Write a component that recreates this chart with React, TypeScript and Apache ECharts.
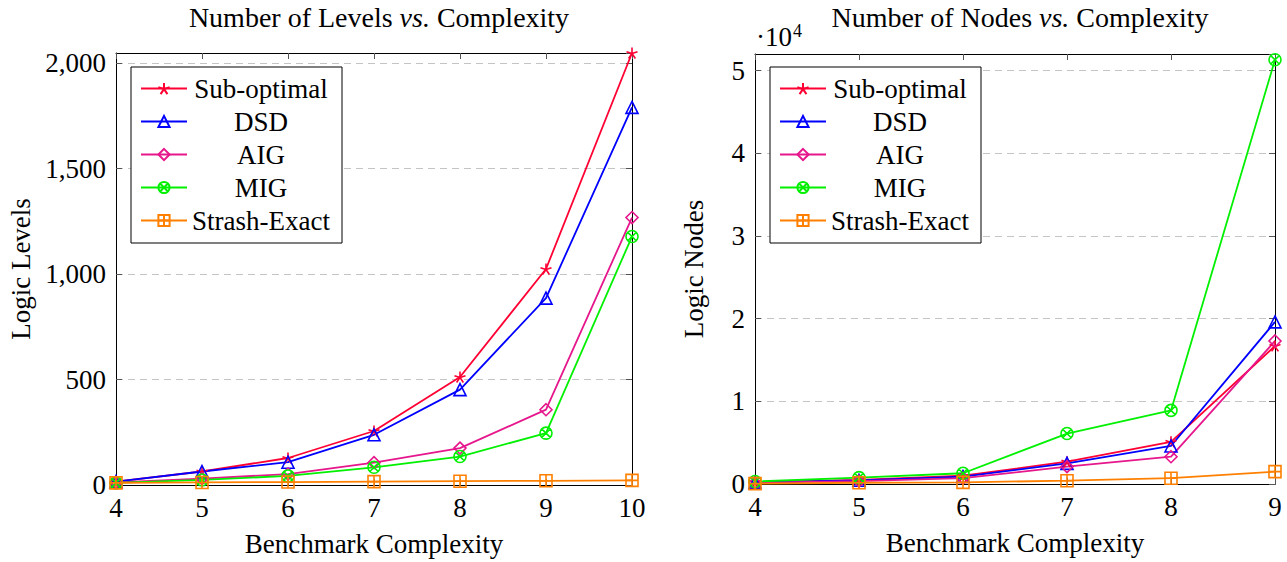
import React, { useEffect, useRef } from 'react';
import * as echarts from 'echarts';

// ---------- data ----------
const seriesNames = ['Sub-optimal', 'DSD', 'AIG', 'MIG', 'Strash-Exact'];

const levelComplexity = [4, 5, 6, 7, 8, 9, 10];
const levelsSubOptimal = [16, 64, 128, 256, 512, 1024, 2048];
const levelsDSD = [16, 64, 108, 238, 452, 886, 1790];
const levelsAIG = [12, 30, 52, 106, 175, 357, 1268];
const levelsMIG = [10, 24, 43, 84, 135, 246, 1178];
const levelsStrash = [10, 12, 14, 16, 18, 20, 22];

const nodeComplexity = [4, 5, 6, 7, 8, 9];
const nodesSubOptimal = [200, 500, 1000, 2700, 5100, 16700];
const nodesDSD = [200, 450, 900, 2500, 4600, 19600];
const nodesAIG = [150, 350, 700, 2100, 3300, 17300];
const nodesMIG = [300, 770, 1300, 6100, 8900, 51300];
const nodesStrash = [50, 150, 200, 400, 700, 1500];

const levelTicks = { min: 0, max: 2048, interval: 500 };
const nodeTicks = { min: 0, max: 52000, interval: 10000 };

// ---------- styles ----------
const FONT = '"Liberation Serif", "Times New Roman", serif';
const FS = 27;
const TFS = 28;

const STAR =
  'path://M0,0L0,-5M0,0L-4.76,-1.55M0,0L-2.94,4.05M0,0L2.94,4.05M0,0L4.76,-1.55';
const TRI = 'path://M0,-5L5.2,4L-5.2,4Z';
const DIAM = 'path://M0,-6L3.8,0L0,6L-3.8,0Z';
const OTIMES =
  'path://M5,0A5,5,0,1,1,-5,0A5,5,0,1,1,5,0ZM-3.5,-3.5L3.5,3.5M-3.5,3.5L3.5,-3.5';
const BOXPLUS = 'path://M-5,-5L5,-5L5,5L-5,5ZM0,-5L0,5M-5,0L5,0';

const styles: Record<string, { color: string; symbol: string; size: number }> = {
  'Sub-optimal': { color: '#ff0033', symbol: STAR, size: 11 },
  DSD: { color: '#0000ff', symbol: TRI, size: 12 },
  AIG: { color: '#e6168c', symbol: DIAM, size: 12 },
  MIG: { color: '#00f000', symbol: OTIMES, size: 12 },
  'Strash-Exact': { color: '#ff8000', symbol: BOXPLUS, size: 12 },
};

function mkSeries(name: string, xs: number[], ys: number[], idx: number) {
  const s = styles[name];
  return {
    type: 'line',
    name,
    xAxisIndex: idx * 2,
    yAxisIndex: idx * 2,
    data: xs.map((x, i) => [x, ys[i]]),
    symbol: s.symbol,
    symbolSize: s.size,
    showAllSymbol: true,
    clip: false,
    lineStyle: { color: s.color, width: 1.8 },
    itemStyle: { color: 'transparent', borderColor: s.color, borderWidth: 1.6 },
    emphasis: { disabled: true },
  };
}

function xAxes(gridIndex: number, max: number) {
  const common = {
    type: 'value',
    gridIndex,
    min: 4,
    max,
    interval: 1,
    splitLine: { show: false },
    axisLine: { show: true, onZero: false, lineStyle: { color: '#000', width: 1 } },
    axisTick: { show: true, inside: true, length: 6, lineStyle: { color: '#555' } },
  };
  return [
    {
      ...common,
      position: 'bottom',
      name: 'Benchmark Complexity',
      nameLocation: 'middle',
      nameGap: 45,
      nameTextStyle: { fontFamily: FONT, fontSize: FS, color: '#000' },
      axisLabel: { fontFamily: FONT, fontSize: FS, color: '#000', margin: 9 },
    },
    { ...common, position: 'top', axisLabel: { show: false } },
  ];
}

function yAxes(gridIndex: number, t: { min: number; max: number; interval: number }, name: string, nameGap: number, fmt: (v: number) => string) {
  const common = {
    type: 'value',
    gridIndex,
    min: t.min,
    max: t.max,
    interval: t.interval,
    axisLine: { show: true, onZero: false, lineStyle: { color: '#000', width: 1 } },
    axisTick: { show: true, inside: true, length: 6, lineStyle: { color: '#555' } },
  };
  return [
    {
      ...common,
      position: 'left',
      name,
      nameLocation: 'middle',
      nameRotate: 90,
      nameGap,
      nameTextStyle: { fontFamily: FONT, fontSize: FS, color: '#000' },
      axisLabel: { fontFamily: FONT, fontSize: FS, color: '#000', margin: 10, showMaxLabel: false, formatter: fmt },
      splitLine: { show: true, lineStyle: { color: '#c4c4c4', type: [7, 5], width: 1.2 } },
    },
    { ...common, position: 'right', axisLabel: { show: false }, splitLine: { show: false } },
  ];
}

function legend(left: number) {
  return {
    show: true,
    orient: 'vertical',
    left,
    top: 67,
    selectedMode: false,
    backgroundColor: '#fff',
    borderColor: '#000',
    borderWidth: 1,
    borderRadius: 0,
    padding: [8, 12, 9, 9],
    itemGap: 6,
    itemWidth: 46,
    itemHeight: 14,
    data: seriesNames,
    formatter: (n: string) => `{t|${n}}`,
    textStyle: {
      fontFamily: FONT,
      fontSize: FS,
      color: '#000',
      rich: { t: { width: 138, align: 'center', fontFamily: FONT, fontSize: FS, lineHeight: 26, color: '#000' } },
    },
  };
}

function title(text: string, center: number) {
  return {
    text,
    left: center,
    top: -2,
    textAlign: 'center',
    textStyle: {
      fontFamily: FONT,
      fontSize: TFS,
      fontWeight: 'normal',
      color: '#000',
      rich: {
        n: { fontFamily: FONT, fontSize: TFS, color: '#000' },
        i: { fontFamily: FONT, fontSize: TFS, color: '#000', fontStyle: 'italic' },
      },
    },
  };
}

export default function App() {
  const ref = useRef<HTMLDivElement>(null);
  useEffect(() => {
    if (!ref.current) return;
    const chart = echarts.init(ref.current, undefined, { renderer: 'svg' });
    const levelData = [levelsSubOptimal, levelsDSD, levelsAIG, levelsMIG, levelsStrash];
    const nodeData = [nodesSubOptimal, nodesDSD, nodesAIG, nodesMIG, nodesStrash];
    chart.setOption({
      animation: false,
      backgroundColor: '#fff',
      title: [
        title('{n|Number of Levels }{i|vs.}{n| Complexity}', 374),
        title('{n|Number of Nodes }{i|vs.}{n| Complexity}', 1015),
      ],
      grid: [
        { left: 116, top: 53, width: 516, height: 432 },
        { left: 755, top: 54, width: 520, height: 430 },
      ],
      xAxis: [...xAxes(0, 10), ...xAxes(1, 9)],
      yAxis: [
        ...yAxes(0, levelTicks, 'Logic Levels', 82, (v: number) => v.toLocaleString('en-US')),
        ...yAxes(1, nodeTicks, 'Logic Nodes', 48, (v: number) => String(v / 10000)),
      ],
      legend: [legend(131), legend(770)],
      graphic: [
        {
          type: 'text',
          left: 756,
          top: 22,
          style: {
            text: '·10{s|4}',
            font: `${FS}px ${FONT}`,
            fill: '#000',
            rich: { s: { fontSize: 18, fontFamily: FONT, verticalAlign: 'top', padding: [0, 0, 12, 1] } },
          },
        },
      ],
      series: [
        ...seriesNames.map((n, i) => mkSeries(n, levelComplexity, levelData[i], 0)),
        ...seriesNames.map((n, i) => mkSeries(n, nodeComplexity, nodeData[i], 1)),
      ],
    });
    return () => chart.dispose();
  }, []);
  return <div ref={ref} style={{ position: 'fixed', left: 0, top: 0, width: 1287, height: 562, background: '#fff' }} />;
}
